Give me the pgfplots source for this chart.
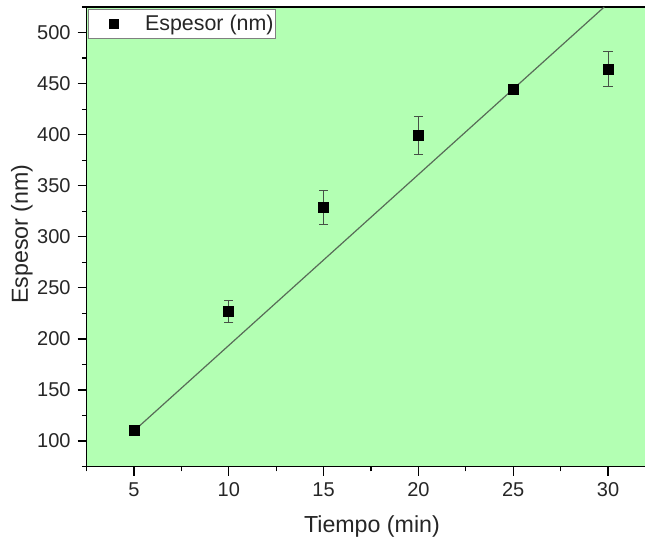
\documentclass[border=0pt]{standalone}
\usepackage{fontspec}
\setmainfont{Liberation Sans}
\usepackage{pgfplots}
\usepackage{pgfplotstable}
\pgfplotsset{compat=1.18}

\definecolor{plotbg}{RGB}{179,255,179}
\definecolor{fitline}{RGB}{88,108,88}
\definecolor{errcol}{RGB}{70,80,70}

% Tiempo (min), Espesor (nm), desviación
\pgfplotstableread{
t   e      err
5   110    0
10  227    10.7
15  328.6  16.5
20  399.3  18.5
25  444.8  2
30  464    17
}\espesor

\begin{document}
\begin{tikzpicture}
\begin{axis}[
  scale only axis,
  width=279.2pt, height=229.8pt,
  xmin=2.5, xmax=31.95,
  ymin=75, ymax=525,
  axis x line*=box, axis y line*=left,
  x axis line style={-}, y axis line style={-},
  axis line style={line width=0.75pt, black},
  axis background/.style={fill=plotbg},
  xtick={5,10,...,30},
  minor xtick={2.5,7.5,...,32.5},
  ytick={100,150,...,500},
  minor ytick={75,125,...,525},
  xtick pos=lower, ytick pos=left,
  tick align=outside,
  major tick length=4.5pt, minor tick length=2.4pt,
  tick style={line width=0.6pt, black},
  tick label style={font=\fontsize{10}{12}\selectfont, text=black!85},
  /pgf/number format/assume math mode=true,
  xlabel={Tiempo (min)}, ylabel={Espesor (nm)},
  label style={font=\fontsize{11.6}{14}\selectfont, text=black!85},
  x label style={at={(axis description cs:0.511,-0.1423)}, anchor=base},
  y label style={at={(axis description cs:-0.105,0.506)}, anchor=base},
  legend style={at={(axis description cs:0,1)}, anchor=north west,
    xshift=0.85pt, yshift=-1.15pt,
    draw=gray, line width=0.4pt, fill=white, inner sep=0pt,
    nodes={inner ysep=2.5pt, inner xsep=1pt},
    font=\fontsize{10.7}{12}\selectfont, text=black!85,
    /tikz/every even column/.append style={column sep=0pt}},
  legend cell align=left,
]
\addplot[only marks, mark=square*, mark size=2.5pt, black,
  legend image code/.code={
    \path[draw=none, fill=none] (0pt,-2pt) rectangle (27.2pt,2pt);
    \draw[black, fill=black, line width=0.4pt] (10.6pt,-2.1pt) rectangle (14.8pt,2.1pt);
  },
  error bars/.cd, y dir=both, y explicit,
  error bar style={errcol, line width=0.5pt},
  error mark options={rotate=90, mark size=2.3pt, errcol, line width=0.5pt}]
  table[x=t, y=e, y error=err] {\espesor};
\addlegendentry{Espesor (nm)}

% recta de ajuste
\addplot[fitline, line width=0.6pt, forget plot] coordinates {(5,110) (29.8,525)};
\end{axis}
\pgfresetboundingbox
\path[use as bounding box] (-43.3pt,-37.7pt) rectangle (279.2pt,233.3pt);
\end{tikzpicture}
\end{document}
